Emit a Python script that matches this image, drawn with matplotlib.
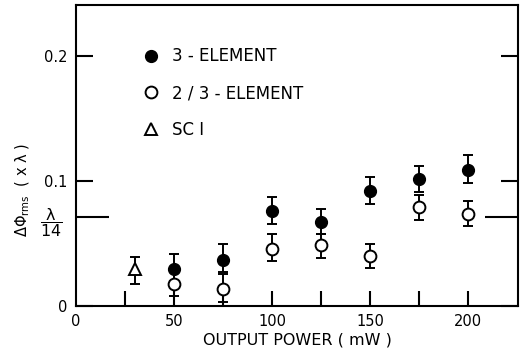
import matplotlib
matplotlib.use("Agg")
import matplotlib.pyplot as plt
from matplotlib.lines import Line2D
import numpy as np

# ---- data ----
power = [50, 75, 100, 125, 150, 175, 200]
three_elem = [0.030, 0.037, 0.076, 0.067, 0.092, 0.102, 0.109]
three_elem_lo = [0.020, 0.0275, 0.066, 0.058, 0.082, 0.0915, 0.0987]
three_elem_hi = [0.042, 0.050, 0.087, 0.0776, 0.1035, 0.112, 0.121]

two_three_elem = [0.018, 0.0136, 0.046, 0.0488, 0.040, 0.0795, 0.0736]
two_three_lo = [0.008, 0.003, 0.036, 0.0387, 0.0307, 0.0688, 0.064]
two_three_hi = [0.027, 0.026, 0.0576, 0.058, 0.0496, 0.0888, 0.084]

sci_power = [30]
sci = [0.030]
sci_lo = [0.018]
sci_hi = [0.039]

labels = ["3 - ELEMENT", "2 / 3 - ELEMENT", "SC I"]
xticks = [0, 50, 100, 150, 200]
yticks = [0, 0.1, 0.2]
ytick_labels = ["0", "0.1", "0.2"]

plt.rcParams['font.family'] = ['DejaVu Sans']

fig = plt.figure(figsize=(5.24, 3.56), dpi=100)
ax = fig.add_axes([76/524, 1-306/356, 442/524, 301/356])

def errs(y, lo, hi):
    y = np.array(y); lo = np.array(lo); hi = np.array(hi)
    return np.vstack([y - lo, hi - y])

ekw = dict(color='black', elinewidth=1.4, capsize=3.8, capthick=1.4, linestyle='none')
ax.errorbar(power, three_elem, yerr=errs(three_elem, three_elem_lo, three_elem_hi),
            marker='o', markersize=8.5, mfc='black', mec='black', zorder=3, **ekw)
ax.errorbar(power, two_three_elem, yerr=errs(two_three_elem, two_three_lo, two_three_hi),
            marker='o', markersize=8.5, mfc='white', mec='black', mew=1.4, zorder=4, **ekw)
ax.errorbar(sci_power, sci, yerr=errs(sci, sci_lo, sci_hi),
            marker='^', markersize=8.5, mfc='white', mec='black', mew=1.4, zorder=4, **ekw)

ax.set_xlim(0, 225.5)
ax.set_ylim(0, 0.2408)

ax.set_xticks(np.arange(25, 225, 25))
ax.set_xticklabels([str(v) if v % 50 == 0 else "" for v in np.arange(25, 225, 25)])
ax.set_xticks([0], minor=True)
ax.set_xticklabels(["0"], minor=True)
ax.tick_params(axis='x', which='major', direction='in', length=11, width=1.5,
               labelsize=10.5, pad=6)
ax.tick_params(axis='x', which='minor', direction='in', length=0, labelsize=10.5, pad=6)

ax.set_yticks(yticks)
ax.set_yticklabels(ytick_labels)
ax.set_yticks([1/14], minor=True)
ax.set_yticklabels([r'$\dfrac{\mathrm{λ}}{14}$'], minor=True)
ax.tick_params(axis='y', which='major', direction='in', length=12, width=1.5,
               labelsize=10.5, pad=6, right=True)
ax.tick_params(axis='y', which='minor', direction='in', length=24, width=1.5,
               labelsize=11.5, pad=10, right=True)

for s in ax.spines.values():
    s.set_linewidth(1.5)

ax.set_xlabel("OUTPUT POWER ( mW )", fontsize=11.5, labelpad=2)
fig.text(23/524, 1-190/356, r'$\mathit{\Delta}\Phi_{\rm rms}$  ( x λ )',
         rotation=90, ha='center', va='center', fontsize=10.5)

handles = [
    Line2D([], [], marker='o', linestyle='none', markersize=8.5, mfc='black', mec='black'),
    Line2D([], [], marker='o', linestyle='none', markersize=8.5, mfc='white', mec='black', mew=1.4),
    Line2D([], [], marker='^', linestyle='none', markersize=8.5, mfc='white', mec='black', mew=1.4),
]
ax.legend(handles, labels, loc='upper left', bbox_to_anchor=(0.133, 0.887), frameon=False,
          fontsize=12, handlelength=1.0, handletextpad=0.75, labelspacing=1.12,
          borderpad=0)

fig.savefig("out.png", dpi=100)
